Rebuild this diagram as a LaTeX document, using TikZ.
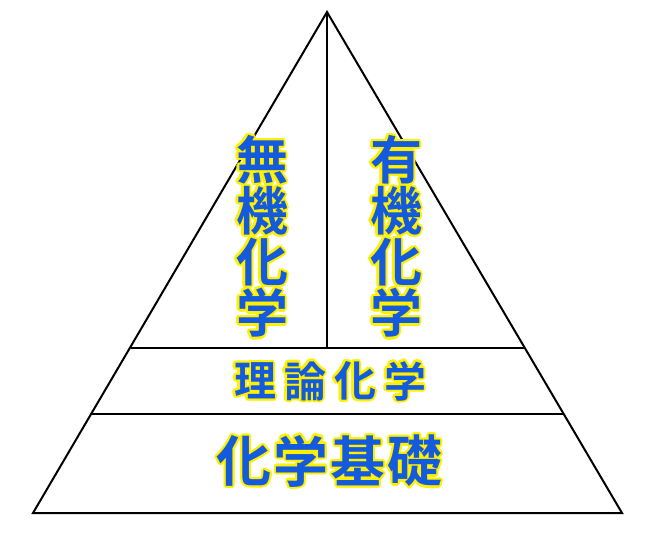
\documentclass[tikz,border=0pt]{standalone}
\usepackage{fontspec}
\newfontfamily\cjk{Noto Sans CJK JP Bold}
\definecolor{tblue}{RGB}{20,90,220}
\definecolor{tyel}{RGB}{255,240,0}
\newcommand{\otext}[4]{% name, pos, size, text
  \foreach \a in {0,30,...,330}{\node[text=tyel,font=\cjk\fontsize{#3}{#3}\selectfont] at ([shift={(\a:2.2)}]#2) {#4};}
  \node[text=tblue,font=\cjk\fontsize{#3}{#3}\selectfont] (#1) at (#2) {#4};}
\begin{document}
\begin{tikzpicture}[x=1pt,y=-1pt,line width=2pt]
\useasboundingbox (0,0) rectangle (650,533);
\coordinate (A) at (327,12);
\coordinate (L) at (33,513);
\coordinate (R) at (622,513);
\draw (A) -- (L) -- (R) -- cycle;
\coordinate (m1) at (131,348); \coordinate (m2) at (524,348);
\coordinate (n1) at (92,414); \coordinate (n2) at (563,414);
\coordinate (v) at (327,348);
\draw (m1) -- (m2); \draw (n1) -- (n2); \draw (A) -- (v);
\otext{a1}{262,160}{52}{無}
\otext{a2}{262,211}{52}{機}
\otext{a3}{262,262}{52}{化}
\otext{a4}{262,313}{52}{学}
\otext{b1}{396,160}{52}{有}
\otext{b2}{396,211}{52}{機}
\otext{b3}{396,262}{52}{化}
\otext{b4}{396,313}{52}{学}
\otext{c1}{255,381}{42}{理}
\otext{c2}{305,381}{42}{論}
\otext{c3}{355,381}{42}{化}
\otext{c4}{405,381}{42}{学}
\otext{d1}{244,461}{55}{化}
\otext{d2}{301,461}{55}{学}
\otext{d3}{358,461}{55}{基}
\otext{d4}{415,461}{55}{礎}
\end{tikzpicture}
\end{document}
